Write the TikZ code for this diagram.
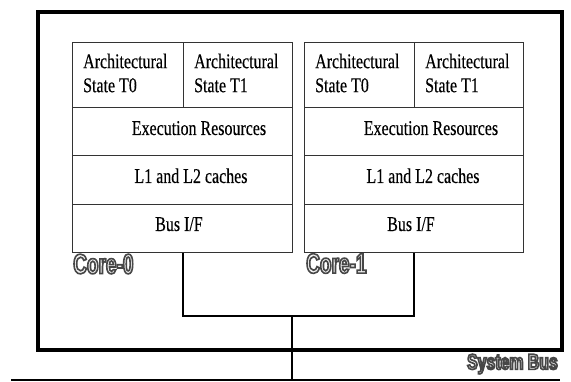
\documentclass[tikz,border=0pt]{standalone}
\usepackage{fontspec}
\setmainfont[FakeStretch=0.76,FakeBold=0.3]{Liberation Serif}
\newfontfamily\corefont[FakeStretch=0.68]{Liberation Sans Bold}
\newfontfamily\busfont[FakeStretch=0.72]{Liberation Sans Bold}
\definecolor{cellline}{HTML}{333333}
\definecolor{fillt}{HTML}{F2F2F2}
\newcommand\outlined[1]{\special{pdf:literal direct 2 Tr 1.6 w 0.28 G}#1\special{pdf:literal direct 0 Tr}}
\begin{document}
\begin{tikzpicture}[x=1pt,y=-1pt,
  cell/.style={draw=cellline, line width=1.3pt, inner sep=0pt, anchor=north west},
  txt/.style={inner sep=0pt, font=\fontsize{21}{24}\selectfont},
  archtxt/.style={txt, align=left, anchor=west},
  rowtxt/.style={txt, anchor=base},
  wire/.style={draw=black, line width=2pt},
  corelbl/.style={inner sep=0pt, anchor=west, text=fillt, font=\corefont\fontsize{28}{28}\selectfont},
  buslbl/.style={inner sep=0pt, anchor=east, text=fillt, font=\busfont\fontsize{22}{22}\selectfont}]
\useasboundingbox (0,0) rectangle (571,382);
\fill[white] (0,0) rectangle (571,382);
% outer chip box
\node[draw=black, line width=4.5pt, inner sep=0pt, minimum width=524pt, minimum height=338pt, anchor=north west] (chip) at (35.5,10) {};
% Core 0
\node[cell, minimum width=111pt, minimum height=65pt] (a0) at (72,42) {};
\node[cell, minimum width=109pt, minimum height=65pt] (b0) at (183,42) {};
\node[cell, minimum width=220pt, minimum height=48pt] (e0) at (72,107) {};
\node[cell, minimum width=220pt, minimum height=49pt] (l0) at (72,155) {};
\node[cell, minimum width=220pt, minimum height=48pt] (i0) at (72,204) {};
% Core 1
\node[cell, minimum width=110pt, minimum height=65pt] (a1) at (304,42) {};
\node[cell, minimum width=109pt, minimum height=65pt] (b1) at (414,42) {};
\node[cell, minimum width=219pt, minimum height=48pt] (e1) at (304,107) {};
\node[cell, minimum width=219pt, minimum height=49pt] (l1) at (304,155) {};
\node[cell, minimum width=219pt, minimum height=48pt] (i1) at (304,204) {};
% texts core 0
\node[archtxt] (ta0) at (83,73) {Architectural\\State T0};
\node[archtxt] (tb0) at (194,73) {Architectural\\State T1};
\node[rowtxt] (te0) at (199,135) {Execution Resources};
\node[rowtxt] (tl0) at (191,183) {L1 and L2 caches};
\node[rowtxt] (ti0) at (179,231) {Bus I/F};
% texts core 1
\node[archtxt] (ta1) at (315,73) {Architectural\\State T0};
\node[archtxt] (tb1) at (425,73) {Architectural\\State T1};
\node[rowtxt] (te1) at (431,135) {Execution Resources};
\node[rowtxt] (tl1) at (423,183) {L1 and L2 caches};
\node[rowtxt] (ti1) at (411,231) {Bus I/F};
% labels
\node[corelbl] (c0lbl) at (73,264) {\outlined{Core-0}};
\node[corelbl] (c1lbl) at (306,263.5) {\outlined{Core-1}};
\node[buslbl] (sblbl) at (558,364) {\outlined{System Bus}};
% connectors
\coordinate (j) at (292,316);
\coordinate (busL) at (11,380);
\coordinate (busR) at (560,380);
\coordinate (busJ) at (292,380);
\draw[wire] (i0.south) |- (j) -| (i1.south);
\draw[wire] (j) -- (busJ);
\draw[draw=black, line width=2.5pt] (busL) -- (busR);
\end{tikzpicture}
\end{document}
